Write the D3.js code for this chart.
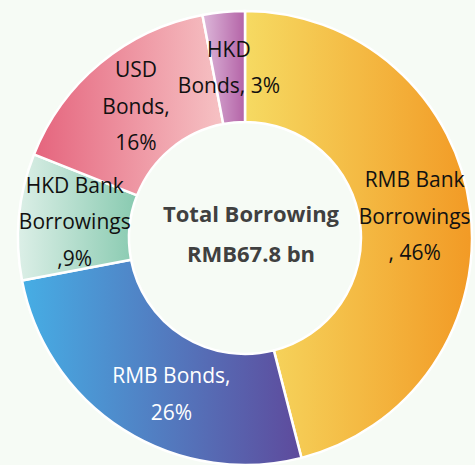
<!DOCTYPE html>
<html lang="en">
<head>
    <meta charset="UTF-8">
    <title>Total Borrowing</title>
    <script src="https://d3js.org/d3.v7.min.js"></script>
    <style>
        html, body {
            margin: 0;
            padding: 0;
            background: #f6fbf5;
        }
        svg {
            display: block;
        }
        .slice-label {
            font-family: "Open Sans", "Noto Sans", sans-serif;
            font-size: 21px;
        }
        .center-label {
            font-family: "Open Sans", "Noto Sans", sans-serif;
            font-size: 22px;
            font-weight: bold;
            fill: #404040;
        }
    </style>
</head>
<body>
    <script>
        // slice data, clockwise from 12 o'clock
        const categories = ["RMB Bank Borrowings", "RMB Bonds", "HKD Bank Borrowings", "USD Bonds", "HKD Bonds"];
        const shares = [46, 26, 9, 16, 3];
        const labelLines = [
            ["RMB Bank", "Borrowings", ", 46%"],
            ["RMB Bonds,", "26%"],
            ["HKD Bank", "Borrowings", ",9%"],
            ["USD", "Bonds,", "16%"],
            ["HKD", "Bonds, 3%"]
        ];
        const gradStops = [
            ["#f6da62", "#f29a25"],
            ["#46aee5", "#5e4a9c"],
            ["#dcefe7", "#88cab0"],
            ["#e5647d", "#f6c2c4"],
            ["#ddb8da", "#b463a7"]
        ];
        const labelColors = ["#111", "#fff", "#111", "#111", "#111"];
        const centerLines = ["Total Borrowing", "RMB67.8 bn"];

        const width = 475, height = 465;
        const cx = 245, cy = 238;
        const outerR = 227, innerR = 116, labelR = 171;
        const lineH = 36.5;

        const svg = d3.select("body").append("svg")
            .attr("width", width)
            .attr("height", height);

        const defs = svg.append("defs");
        gradStops.forEach((s, i) => {
            const g = defs.append("linearGradient")
                .attr("id", "grad" + i)
                .attr("x1", "0%").attr("x2", "100%")
                .attr("y1", "0%").attr("y2", "0%");
            g.append("stop").attr("offset", "0%").attr("stop-color", s[0]);
            g.append("stop").attr("offset", "100%").attr("stop-color", s[1]);
        });

        const data = categories.map((c, i) => ({ name: c, value: shares[i], i: i }));

        const pie = d3.pie()
            .value(d => d.value)
            .sort(null);

        const arc = d3.arc()
            .innerRadius(innerR)
            .outerRadius(outerR);

        const labelArc = d3.arc()
            .innerRadius(labelR)
            .outerRadius(labelR);

        const g = svg.append("g")
            .attr("transform", `translate(${cx},${cy})`);

        const arcs = pie(data);

        g.selectAll("path.slice")
            .data(arcs)
            .enter()
            .append("path")
            .attr("class", "slice")
            .attr("d", arc)
            .attr("fill", d => `url(#grad${d.data.i})`)
            .attr("stroke", "#fff")
            .attr("stroke-width", 2.5)
            .attr("stroke-linejoin", "round");

        // small nudge where the label doesn't sit on the centroid
        const nudge = { 1: [18, 12] };

        const labels = g.selectAll("text.slice-label")
            .data(arcs)
            .enter()
            .append("text")
            .attr("class", "slice-label")
            .attr("text-anchor", "middle")
            .attr("fill", d => labelColors[d.data.i])
            .attr("transform", d => {
                const c = labelArc.centroid(d);
                const n = nudge[d.data.i] || [0, 0];
                return `translate(${c[0] + n[0]},${c[1] + n[1]})`;
            });

        labels.each(function (d) {
            const lines = labelLines[d.data.i];
            const t = d3.select(this);
            const start = -(lines.length - 1) / 2 * lineH;
            lines.forEach((ln, k) => {
                t.append("tspan")
                    .attr("x", 0)
                    .attr("y", start + k * lineH)
                    .attr("dy", "0.35em")
                    .text(ln);
            });
        });

        g.selectAll("text.center-label")
            .data(centerLines)
            .enter()
            .append("text")
            .attr("class", "center-label")
            .attr("text-anchor", "middle")
            .attr("x", 6)
            .attr("y", (d, i) => -24 + i * 40)
            .attr("dy", "0.35em")
            .text(d => d);
    </script>
</body>
</html>
